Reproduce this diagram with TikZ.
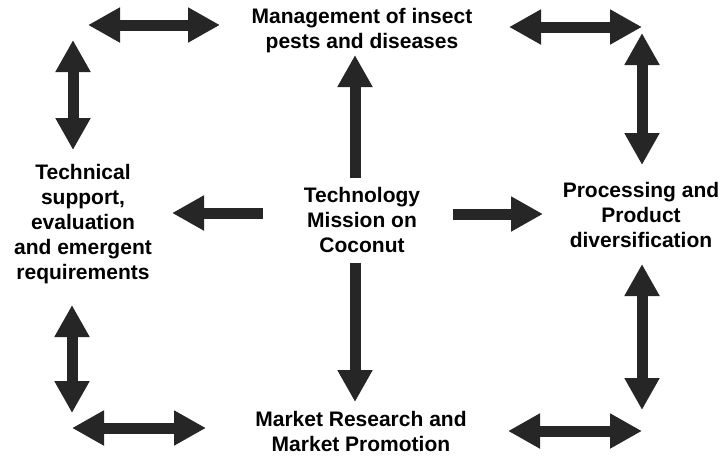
\documentclass[tikz,border=0pt]{standalone}
\usepackage{fontspec}
\setmainfont{Liberation Sans}
\usetikzlibrary{arrows.meta}

\tikzset{
  txt/.style={font=\fontsize{21}{25}\selectfont\bfseries, inner sep=0pt, align=center},
  fat/.style={line width=11pt, draw=black!85},
  tip/.tip={Triangle[length=32pt,width=33pt]},
  both/.style={fat, tip-tip},
  one/.style={fat, -tip},
}

\begin{document}
\begin{tikzpicture}[x=1pt, y=-1pt]

  \useasboundingbox (0,0) rectangle (726,456);

  % the five blocks of text
  \node[txt] (mgmt) at (362,31) {Management of insect\\pests and diseases};
  \node[txt] (tmc)  at (362,220) {Technology\\Mission on\\Coconut};
  \node[txt] (tech) at (83,224) {Technical\\support,\\evaluation\\and emergent\\requirements};
  \node[txt] (proc) at (641,215) {Processing and\\Product\\diversification};
  \node[txt] (mkt)  at (361,431) {Market Research and\\Market Promotion};

  % arrow ends
  \coordinate (nw1) at (88,25);   \coordinate (nw2) at (220,25);
  \coordinate (nw3) at (73,40);   \coordinate (nw4) at (73,150);
  \coordinate (ne1) at (509,27);  \coordinate (ne2) at (642,27);
  \coordinate (ne3) at (642,33);  \coordinate (ne4) at (642,165);
  \coordinate (sw1) at (72,305);  \coordinate (sw2) at (72,413);
  \coordinate (sw3) at (72,428);  \coordinate (sw4) at (206,428);
  \coordinate (se1) at (642,264); \coordinate (se2) at (642,410);
  \coordinate (se3) at (508,431); \coordinate (se4) at (642,431);

  \coordinate (up0) at (355,178);   \coordinate (up1) at (355,55);
  \coordinate (dn0) at (355,263);   \coordinate (dn1) at (355,402);
  \coordinate (lf0) at (263,213);   \coordinate (lf1) at (172,213);
  \coordinate (rt0) at (453,214);   \coordinate (rt1) at (543,214);

  % corners
  \draw[both] (nw1) -- (nw2);
  \draw[both] (nw3) -- (nw4);
  \draw[both] (ne1) -- (ne2);
  \draw[both] (ne3) -- (ne4);
  \draw[both] (sw1) -- (sw2);
  \draw[both] (sw3) -- (sw4);
  \draw[both] (se1) -- (se2);
  \draw[both] (se3) -- (se4);

  % from the centre
  \draw[one] (up0) -- (up1);
  \draw[one] (dn0) -- (dn1);
  \draw[one] (lf0) -- (lf1);
  \draw[one] (rt0) -- (rt1);

\end{tikzpicture}
\end{document}
